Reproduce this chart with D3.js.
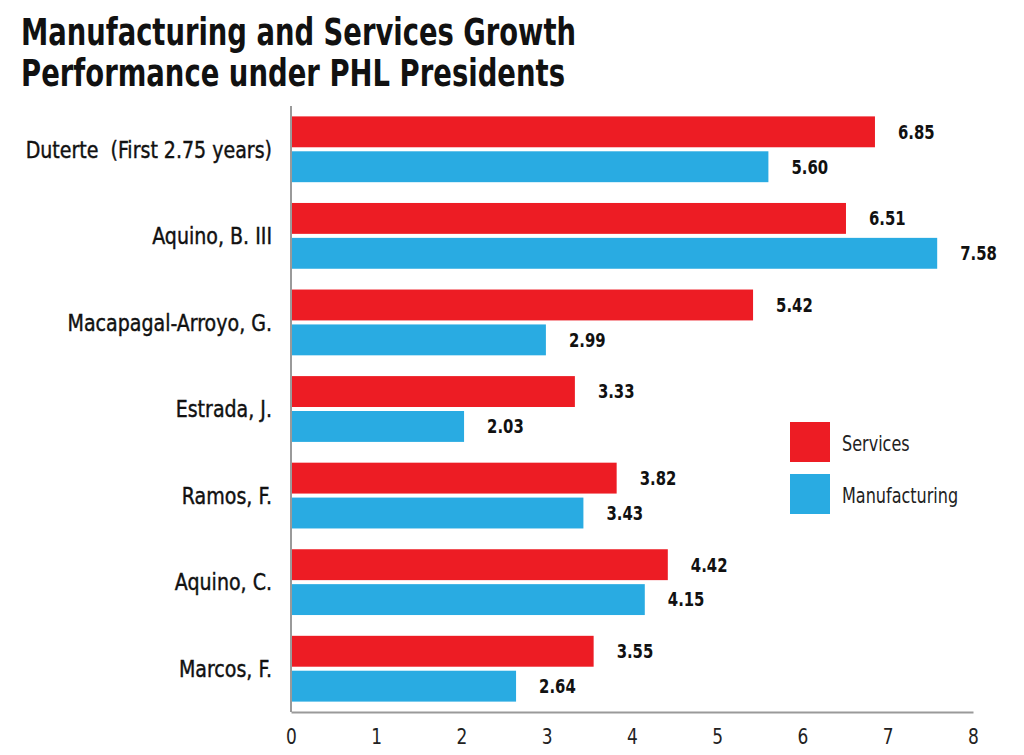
<!DOCTYPE html>
<html>
<head>
<meta charset="utf-8">
<script src="https://cdn.jsdelivr.net/npm/d3@7/dist/d3.min.js"></script>
<style>
  html, body { margin: 0; padding: 0; background: #fff; }
  svg { display: block; }
  text { font-family: "Liberation Sans Narrow", "DejaVu Sans Condensed", sans-serif; white-space: pre; }
  .title { font-weight: bold; fill: #111; }
  .cat { fill: #111; stroke: #111; stroke-width: 0.4px; }
  .val { font-weight: bold; fill: #111; }
  .tick text { fill: #222; }
  .legend text { fill: #222; }
</style>
</head>
<body>
<div id="chart"></div>
<script>
const presidents = ["Duterte  (First 2.75 years)", "Aquino, B. III", "Macapagal-Arroyo, G.", "Estrada, J.", "Ramos, F.", "Aquino, C.", "Marcos, F."]
const series = ["Services", "Manufacturing"]
const services = [6.85, 6.51, 5.42, 3.33, 3.82, 4.42, 3.55]
const manufacturing = [5.60, 7.58, 2.99, 2.03, 3.43, 4.15, 2.64]
const xTicks = [0, 1, 2, 3, 4, 5, 6, 7, 8]
const colors = ["#ed1c24", "#29abe2"]
const titleLines = ["Manufacturing and Services Growth", "Performance under PHL Presidents"]

const width = 1024, height = 755
const margin = {left: 291, right: 51, top: 106, bottom: 43}

// the installed sans is wider than the condensed face in the original, squeeze it a bit
const squeeze = 0.9

const svg = d3.select("#chart").append("svg")
  .attr("width", width).attr("height", height)

// title
svg.selectAll("text.title").data(titleLines).enter().append("text")
  .attr("class", "title")
  .attr("x", 21)
  .attr("y", (d, i) => 45 + i * 41)
  .attr("font-size", 37)
  .attr("textLength", (d, i) => i === 0 ? 555 : 544)
  .attr("lengthAdjust", "spacingAndGlyphs")
  .text(d => d)

const x = d3.scaleLinear().domain([0, 8]).range([margin.left, width - margin.right])
const y = d3.scaleBand().domain(presidents).range([margin.top, height - margin.bottom])
  .paddingInner(0.24).paddingOuter(0.12)
const ySub = d3.scaleBand().domain(series).range([0, y.bandwidth()]).paddingInner(0.115)

const rows = presidents.map((p, i) => ({name: p, values: [services[i], manufacturing[i]]}))

const row = svg.append("g").selectAll("g.row").data(rows).enter().append("g")
  .attr("class", "row")
  .attr("transform", d => `translate(0,${y(d.name)})`)

const bars = d => d.values.map((v, j) => ({key: series[j], v, j}))

row.selectAll("rect").data(bars).enter().append("rect")
  .attr("x", x(0))
  .attr("y", d => ySub(d.key))
  .attr("width", d => x(d.v) - x(0))
  .attr("height", ySub.bandwidth())
  .attr("fill", d => colors[d.j])

row.selectAll("text.val").data(bars).enter().append("text")
  .attr("class", "val")
  .attr("transform", d => `translate(${x(d.v) + 23},${ySub(d.key) + ySub.bandwidth() / 2}) scale(0.87,1)`)
  .attr("dy", "0.36em")
  .attr("font-size", 19)
  .text(d => d3.format(".2f")(d.v))

row.append("text")
  .attr("class", "cat")
  .attr("transform", `translate(272,${y.bandwidth() / 2}) scale(0.92,1)`)
  .attr("dy", "0.36em")
  .attr("text-anchor", "end")
  .attr("font-size", 23)
  .text(d => d.name)

// axes
const xAxis = svg.append("g")
  .attr("transform", `translate(0,${height - margin.bottom})`)
  .call(d3.axisBottom(x).tickValues(xTicks).tickSize(0).tickPadding(17).tickFormat(d3.format("d")))
xAxis.select(".domain").attr("stroke", "#9a9a9a").attr("stroke-width", 2)
xAxis.selectAll(".tick text").attr("font-size", 21).attr("dy", "0.71em")
  .attr("transform", `scale(${squeeze},1)`)

svg.append("line")
  .attr("x1", x(0)).attr("x2", x(0))
  .attr("y1", margin.top).attr("y2", height - margin.bottom)
  .attr("stroke", "#9a9a9a").attr("stroke-width", 2)

// legend
const legend = svg.append("g").attr("class", "legend")
  .attr("transform", "translate(790,422)")
const li = legend.selectAll("g").data(series).enter().append("g")
  .attr("transform", (d, i) => `translate(0,${i * 52})`)
li.append("rect").attr("width", 40).attr("height", 40).attr("fill", (d, i) => colors[i])
li.append("text")
  .attr("transform", "translate(52,21) scale(0.85,1)")
  .attr("dy", "0.36em")
  .attr("font-size", 21).text(d => d)
</script>
</body>
</html>
